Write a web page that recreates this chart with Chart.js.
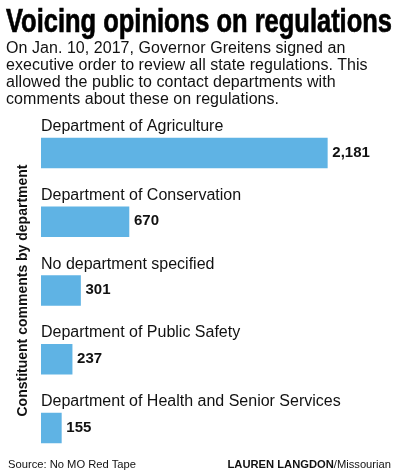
<!DOCTYPE html>
<html>
<head>
<meta charset="utf-8">
<script src="https://cdn.jsdelivr.net/npm/chart.js@4.4.1/dist/chart.umd.min.js"></script>
<style>
html,body{margin:0;padding:0;background:#fff;}
body{width:400px;height:475px;position:relative;overflow:hidden;font-family:"Liberation Sans",Arial,sans-serif;color:#111;}
#chartWrap{position:absolute;left:0;top:0;width:400px;height:475px;}
#title{position:absolute;left:6px;top:3px;font-family:"Liberation Sans Narrow","Liberation Sans",Arial,sans-serif;font-weight:bold;font-size:34px;line-height:34px;white-space:nowrap;transform-origin:0 0;color:#000;-webkit-text-stroke:0.7px #000;}
#sub{position:absolute;left:6px;top:40.4px;font-size:16px;line-height:16.7px;white-space:nowrap;letter-spacing:0.05px;}
.foot{position:absolute;top:458.7px;font-size:11.2px;line-height:11px;white-space:nowrap;}
#src{left:8px;}
#credit{right:9px;}
</style>
</head>
<body>
<div id="chartWrap"><canvas id="c" width="400" height="475"></canvas></div>
<div id="title">Voicing opinions on regulations</div>
<div id="sub">On Jan. 10, 2017, Governor Greitens signed an<br>executive order to review all state regulations. This<br>allowed the public to contact departments with<br>comments about these on regulations.</div>
<div class="foot" id="src">Source: No MO Red Tape</div>
<div class="foot" id="credit"><b>LAUREN LANGDON</b>/Missourian</div>
<script>
const categories = [
  'Department of Agriculture',
  'Department of Conservation',
  'No department specified',
  'Department of Public Safety',
  'Department of Health and Senior Services'
];
const comments = [2181, 670, 301, 237, 155];
const valueLabels = ['2,181', '670', '301', '237', '155'];
const axisMax = 2500;
const axisTitle = 'Constituent comments by department';

// fit the condensed headline to its width
(function(){
  const t = document.getElementById('title');
  const w = t.getBoundingClientRect().width;
  if (w > 0) t.style.transform = 'scaleX(' + (386 / w) + ')';
})();

const barLabels = {
  id: 'barLabels',
  afterDatasetsDraw(chart) {
    const ctx = chart.ctx;
    const area = chart.chartArea;
    const meta = chart.getDatasetMeta(0);
    ctx.save();
    ctx.fillStyle = '#111';
    ctx.textAlign = 'left';
    meta.data.forEach((bar, i) => {
      const p = bar.getProps(['x', 'y', 'base', 'height'], true);
      const top = p.y - p.height / 2;
      ctx.font = '16px "Liberation Sans", Arial, sans-serif';
      ctx.textBaseline = 'alphabetic';
      ctx.fillText(categories[i], area.left, top - 7);
      ctx.font = 'bold 15px "Liberation Sans", Arial, sans-serif';
      ctx.textBaseline = 'middle';
      ctx.fillText(valueLabels[i], p.x + 5, p.y - 0.5);
    });
    ctx.restore();
  }
};

new Chart(document.getElementById('c'), {
  type: 'bar',
  data: {
    labels: categories,
    datasets: [{
      data: comments,
      backgroundColor: '#5fb3e4',
      borderWidth: 0,
      barThickness: 30
    }]
  },
  options: {
    indexAxis: 'y',
    responsive: false,
    animation: false,
    layout: { padding: { left: 11.2, right: 30.8, top: 118.6, bottom: 12.6 } },
    plugins: { legend: { display: false }, tooltip: { enabled: false } },
    scales: {
      x: { min: 0, max: axisMax, display: false },
      y: {
        ticks: { display: false },
        grid: { display: false, drawTicks: false },
        border: { display: false },
        title: {
          display: true,
          text: axisTitle,
          color: '#111',
          font: { family: '"Liberation Sans", Arial, sans-serif', size: 14, weight: 'bold' },
          padding: { top: 4, bottom: 9 }
        }
      }
    }
  },
  plugins: [barLabels]
});
</script>
</body>
</html>
